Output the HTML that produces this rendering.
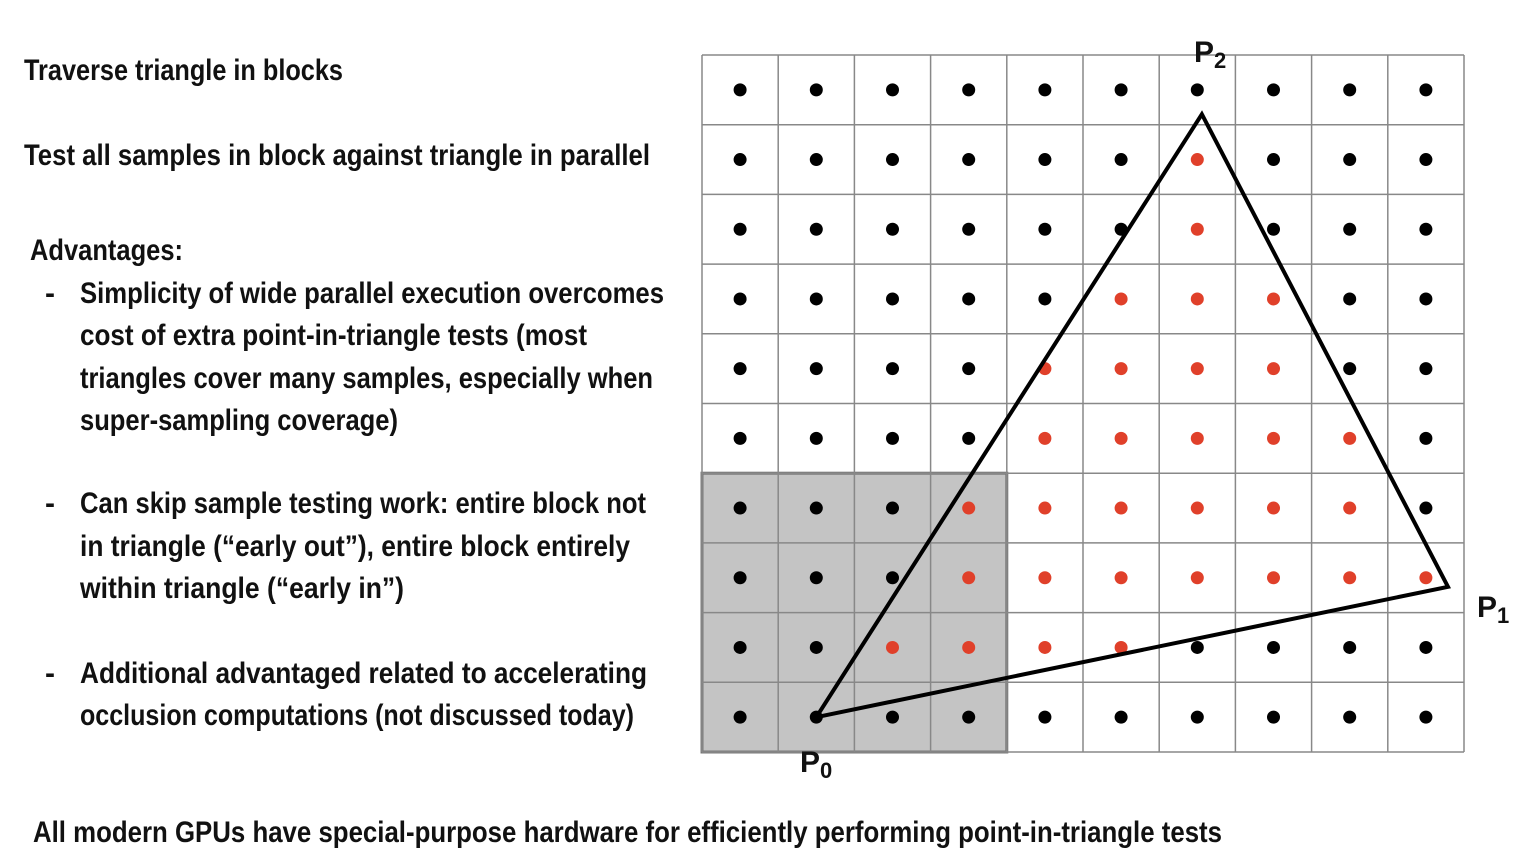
<!DOCTYPE html>
<html><head><meta charset="utf-8"><style>
html,body{margin:0;padding:0;background:#fff;}
svg{display:block;}
text{font-family:"Liberation Sans",sans-serif;font-weight:bold;fill:#111;font-size:30px;}
</style></head><body>
<svg id="s" width="1532" height="864" viewBox="0 0 1532 864">
<g>
<text x="24" y="80" textLength="319" lengthAdjust="spacingAndGlyphs">Traverse triangle in blocks</text>
<text x="24" y="165" textLength="626" lengthAdjust="spacingAndGlyphs">Test all samples in block against triangle in parallel</text>
<text x="30" y="260" textLength="153" lengthAdjust="spacingAndGlyphs">Advantages:</text>
<text x="45" y="303">-</text>
<text x="80" y="303" textLength="584" lengthAdjust="spacingAndGlyphs">Simplicity of wide parallel execution overcomes</text>
<text x="80" y="345" textLength="507" lengthAdjust="spacingAndGlyphs">cost of extra point-in-triangle tests (most</text>
<text x="80" y="388" textLength="573" lengthAdjust="spacingAndGlyphs">triangles cover many samples, especially when</text>
<text x="80" y="430" textLength="318" lengthAdjust="spacingAndGlyphs">super-sampling coverage)</text>
<text x="45" y="513">-</text>
<text x="80" y="513" textLength="566" lengthAdjust="spacingAndGlyphs">Can skip sample testing work: entire block not</text>
<text x="80" y="556" textLength="550" lengthAdjust="spacingAndGlyphs">in triangle (“early out”), entire block entirely</text>
<text x="80" y="598" textLength="324" lengthAdjust="spacingAndGlyphs">within triangle (“early in”)</text>
<text x="45" y="683">-</text>
<text x="80" y="683" textLength="567" lengthAdjust="spacingAndGlyphs">Additional advantaged related to accelerating</text>
<text x="80" y="725" textLength="554" lengthAdjust="spacingAndGlyphs">occlusion computations (not discussed today)</text>
<text x="33" y="842" textLength="1189" lengthAdjust="spacingAndGlyphs">All modern GPUs have special-purpose hardware for efficiently performing point-in-triangle tests</text>
</g>
<g id="grid"></g>
<polygon id="tri" fill="none" stroke="#000" stroke-width="4" stroke-linejoin="miter"></polygon>
<g>
<text x="1194" y="62" font-size="32">P<tspan font-size="22" dy="6">2</tspan></text>
<text x="1477" y="617" font-size="32">P<tspan font-size="22" dy="6">1</tspan></text>
<text x="800" y="772" font-size="32">P<tspan font-size="22" dy="6">0</tspan></text>
</g>
</svg>
<script>
// coverage per row: columns of samples inside triangle (red)
const redRow0=[];const redRow1=[6];const redRow2=[6];const redRow3=[5,6,7];const redRow4=[4,5,6,7];
const redRow5=[4,5,6,7,8];const redRow6=[3,4,5,6,7,8];const redRow7=[3,4,5,6,7,8,9];const redRow8=[2,3,4,5];const redRow9=[];
const redRows=[redRow0,redRow1,redRow2,redRow3,redRow4,redRow5,redRow6,redRow7,redRow8,redRow9];
const triVertices=[[1.5,9.5],[9.79,7.63],[6.56,0.85]]; // in grid cell units
const blockCols=[0,4];const blockRows=[6,10];
const NS='http://www.w3.org/2000/svg';
const X0=702,Y0=55,CW=76.2,CH=69.7;
const xs=c=>X0+c*CW, ys=r=>Y0+r*CH;
const g=document.getElementById('grid');
const blk=document.createElementNS(NS,'rect');
blk.setAttribute('x',xs(blockCols[0]));blk.setAttribute('y',ys(blockRows[0]));
blk.setAttribute('width',xs(blockCols[1])-xs(blockCols[0]));blk.setAttribute('height',ys(blockRows[1])-ys(blockRows[0]));
blk.setAttribute('fill','#c4c4c4');blk.setAttribute('stroke','#777');blk.setAttribute('stroke-width','3');


g.appendChild(blk);
for(let i=0;i<=10;i++){
  const v=document.createElementNS(NS,'line');
  v.setAttribute('x1',xs(i));v.setAttribute('x2',xs(i));v.setAttribute('y1',ys(0));v.setAttribute('y2',ys(10));
  v.setAttribute('stroke','#888');v.setAttribute('stroke-width','1.5');
  
  
  g.appendChild(v);
  const h=document.createElementNS(NS,'line');
  h.setAttribute('y1',ys(i));h.setAttribute('y2',ys(i));h.setAttribute('x1',xs(0));h.setAttribute('x2',xs(10));
  h.setAttribute('stroke','#888');h.setAttribute('stroke-width','1.5');
  
  
  g.appendChild(h);
}
for(let r=0;r<10;r++)for(let c=0;c<10;c++){
  const d=document.createElementNS(NS,'circle');
  d.setAttribute('cx',xs(c+0.5));d.setAttribute('cy',ys(r+0.5));d.setAttribute('r','6.5');
  d.setAttribute('fill',redRows[r].includes(c)?'#e0402a':'#000');
  
  
  g.appendChild(d);
}
document.getElementById('tri').setAttribute('points',triVertices.map(p=>xs(p[0])+','+ys(p[1])).join(' '));
</script>
</body></html>
